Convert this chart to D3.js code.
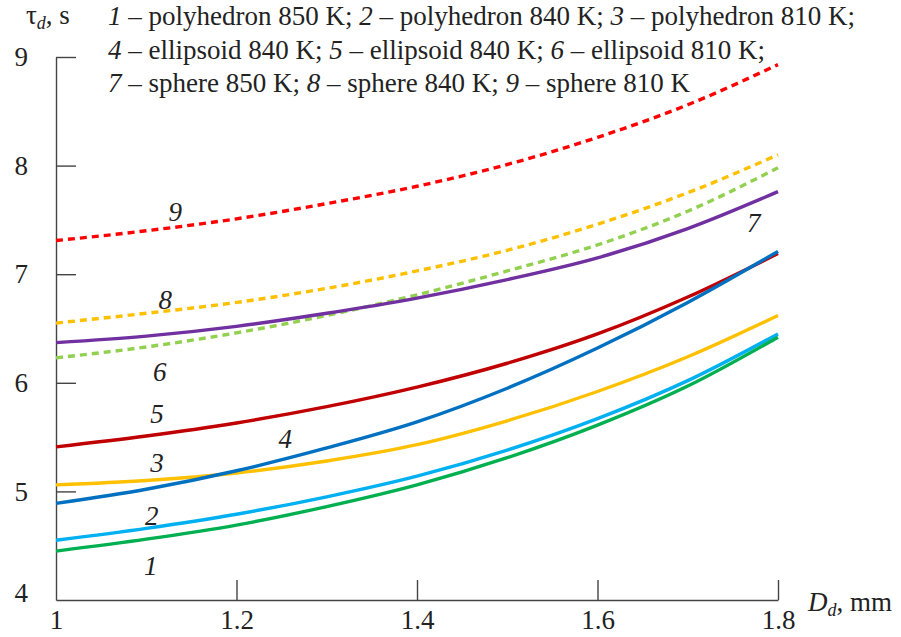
<!DOCTYPE html>
<html>
<head>
<meta charset="utf-8">
<script src="https://cdn.jsdelivr.net/npm/d3@7"></script>
<style>
  body { margin: 0; background: #fff; }
  svg text { font-family: "Liberation Serif", "Times New Roman", serif; fill: #222; }
</style>
</head>
<body>
<div id="chart"></div>
<script>
// droplet diameter, mm
var diameters = [1.0, 1.1, 1.2, 1.3, 1.4, 1.5, 1.6, 1.7, 1.8];

// evaporation time, s
var polyhedron850 = [4.45, 4.56, 4.69, 4.86, 5.06, 5.31, 5.61, 5.97, 6.42];
var polyhedron840 = [4.55, 4.66, 4.79, 4.95, 5.14, 5.38, 5.67, 6.02, 6.45];
var polyhedron810 = [5.06, 5.10, 5.17, 5.28, 5.43, 5.65, 5.92, 6.24, 6.62];
var ellipsoid840a = [4.89, 5.02, 5.19, 5.40, 5.64, 5.95, 6.32, 6.74, 7.21];
var ellipsoid840b = [5.41, 5.51, 5.63, 5.78, 5.96, 6.18, 6.45, 6.79, 7.19];
var ellipsoid810 = [6.23, 6.33, 6.46, 6.62, 6.81, 7.03, 7.27, 7.58, 7.98];
var sphere850 = [6.37, 6.43, 6.52, 6.64, 6.78, 6.95, 7.15, 7.42, 7.76];
var sphere840 = [6.55, 6.64, 6.74, 6.87, 7.03, 7.22, 7.46, 7.75, 8.10];
var sphere810 = [7.31, 7.40, 7.51, 7.65, 7.81, 8.01, 8.26, 8.56, 8.93];

var xTicks = [1, 1.2, 1.4, 1.6, 1.8];
var yTicks = [4, 5, 6, 7, 8, 9];

// curve number labels: [number, D, tau]
var curveLabels = [
  ['1', 1.105, 4.23], ['2', 1.106, 4.69], ['3', 1.112, 5.18],
  ['4', 1.254, 5.40], ['5', 1.112, 5.63], ['6', 1.115, 6.02],
  ['7', 1.773, 7.39], ['8', 1.121, 6.68], ['9', 1.132, 7.49]
];

var legendLines = [
  [['1', 'polyhedron 850 K; '], ['2', 'polyhedron 840 K; '], ['3', 'polyhedron 810 K;']],
  [['4', 'ellipsoid 840 K; '], ['5', 'ellipsoid 840 K; '], ['6', 'ellipsoid 810 K;']],
  [['7', 'sphere 850 K; '], ['8', 'sphere 840 K; '], ['9', 'sphere 810 K']]
];

// drawing order and style
var series = [
  { values: polyhedron840, color: '#00b0f0', dashed: false },
  { values: polyhedron850, color: '#00b050', dashed: false },
  { values: polyhedron810, color: '#ffc000', dashed: false },
  { values: ellipsoid840b, color: '#c00000', dashed: false },
  { values: ellipsoid840a, color: '#0070c0', dashed: false },
  { values: ellipsoid810, color: '#92d050', dashed: true },
  { values: sphere850, color: '#7030a0', dashed: false },
  { values: sphere840, color: '#ffc000', dashed: true },
  { values: sphere810, color: '#ff0000', dashed: true }
];

var svgWidth = 901;
var svgHeight = 637;
var fontSize = 27;

var svg = d3.select('#chart')
  .append('svg')
  .attr('width', svgWidth)
  .attr('height', svgHeight);

var x = d3.scaleLinear().domain([1, 1.8]).range([56, 778]);
var y = d3.scaleLinear().domain([4, 9]).range([600, 57]);

// axes
var bottomAxis = d3.axisBottom(x)
  .tickValues(xTicks)
  .tickFormat(d => String(d))
  .tickSizeInner(-20)
  .tickSizeOuter(0)
  .tickPadding(10);

var leftAxis = d3.axisLeft(y)
  .tickValues(yTicks)
  .tickFormat(d => String(d))
  .tickSizeInner(-20)
  .tickSizeOuter(0)
  .tickPadding(28);

var xAxisG = svg.append('g')
  .attr('transform', `translate(0, ${y(4)})`)
  .call(bottomAxis);

var yAxisG = svg.append('g')
  .attr('transform', `translate(${x(1)}, 0)`)
  .call(leftAxis);

[xAxisG, yAxisG].forEach(function(g) {
  g.select('.domain').attr('stroke', '#444').attr('stroke-width', 1.4);
  g.selectAll('.tick line').attr('stroke', '#444').attr('stroke-width', 1.4);
  g.selectAll('.tick text')
    .attr('fill', '#222')
    .style('font-size', fontSize + 'px')
    .style('font-family', '"Liberation Serif", "Times New Roman", serif');
});
xAxisG.selectAll('.tick').filter(d => d === 1).select('line').remove();
yAxisG.selectAll('.tick').filter(d => d === 4).select('line').remove();
yAxisG.selectAll('.tick').filter(d => d === 4).select('text').attr('dy', '0.05em');

// curves
var line = d3.line()
  .x((d, i) => x(diameters[i]))
  .y(d => y(d))
  .curve(d3.curveMonotoneX);

series.forEach(function(s) {
  svg.append('path')
    .datum(s.values)
    .attr('fill', 'none')
    .attr('stroke', s.color)
    .attr('stroke-width', 3.4)
    .attr('stroke-dasharray', s.dashed ? '7,5' : null)
    .attr('d', line);
});

// curve numbers
svg.selectAll('.curveLabel')
  .data(curveLabels)
  .enter()
  .append('text')
  .attr('class', 'curveLabel')
  .attr('x', d => x(d[1]))
  .attr('y', d => y(d[2]))
  .attr('text-anchor', 'middle')
  .style('font-size', fontSize + 'px')
  .style('font-style', 'italic')
  .text(d => d[0]);

// legend text at the top
var legend = svg.append('g');
legendLines.forEach(function(items, row) {
  var t = legend.append('text')
    .attr('x', 108)
    .attr('y', 25 + row * 33.5)
    .style('font-size', fontSize + 'px');
  items.forEach(function(it) {
    t.append('tspan').style('font-style', 'italic').text(it[0]);
    t.append('tspan').text(' \u2013 ' + it[1]);
  });
});

// axis titles
var yTitle = svg.append('text')
  .attr('x', 26)
  .attr('y', 24)
  .style('font-size', fontSize + 'px');
yTitle.append('tspan').text('\u03c4');
yTitle.append('tspan').attr('dy', 5).style('font-size', '18px').style('font-style', 'italic').text('d');
yTitle.append('tspan').attr('dy', -5).text(', s');

var xTitle = svg.append('text')
  .attr('x', 808)
  .attr('y', 611)
  .style('font-size', fontSize + 'px');
xTitle.append('tspan').style('font-style', 'italic').text('D');
xTitle.append('tspan').attr('dy', 5).style('font-size', '18px').style('font-style', 'italic').text('d');
xTitle.append('tspan').attr('dy', -5).text(', mm');
</script>
</body>
</html>
